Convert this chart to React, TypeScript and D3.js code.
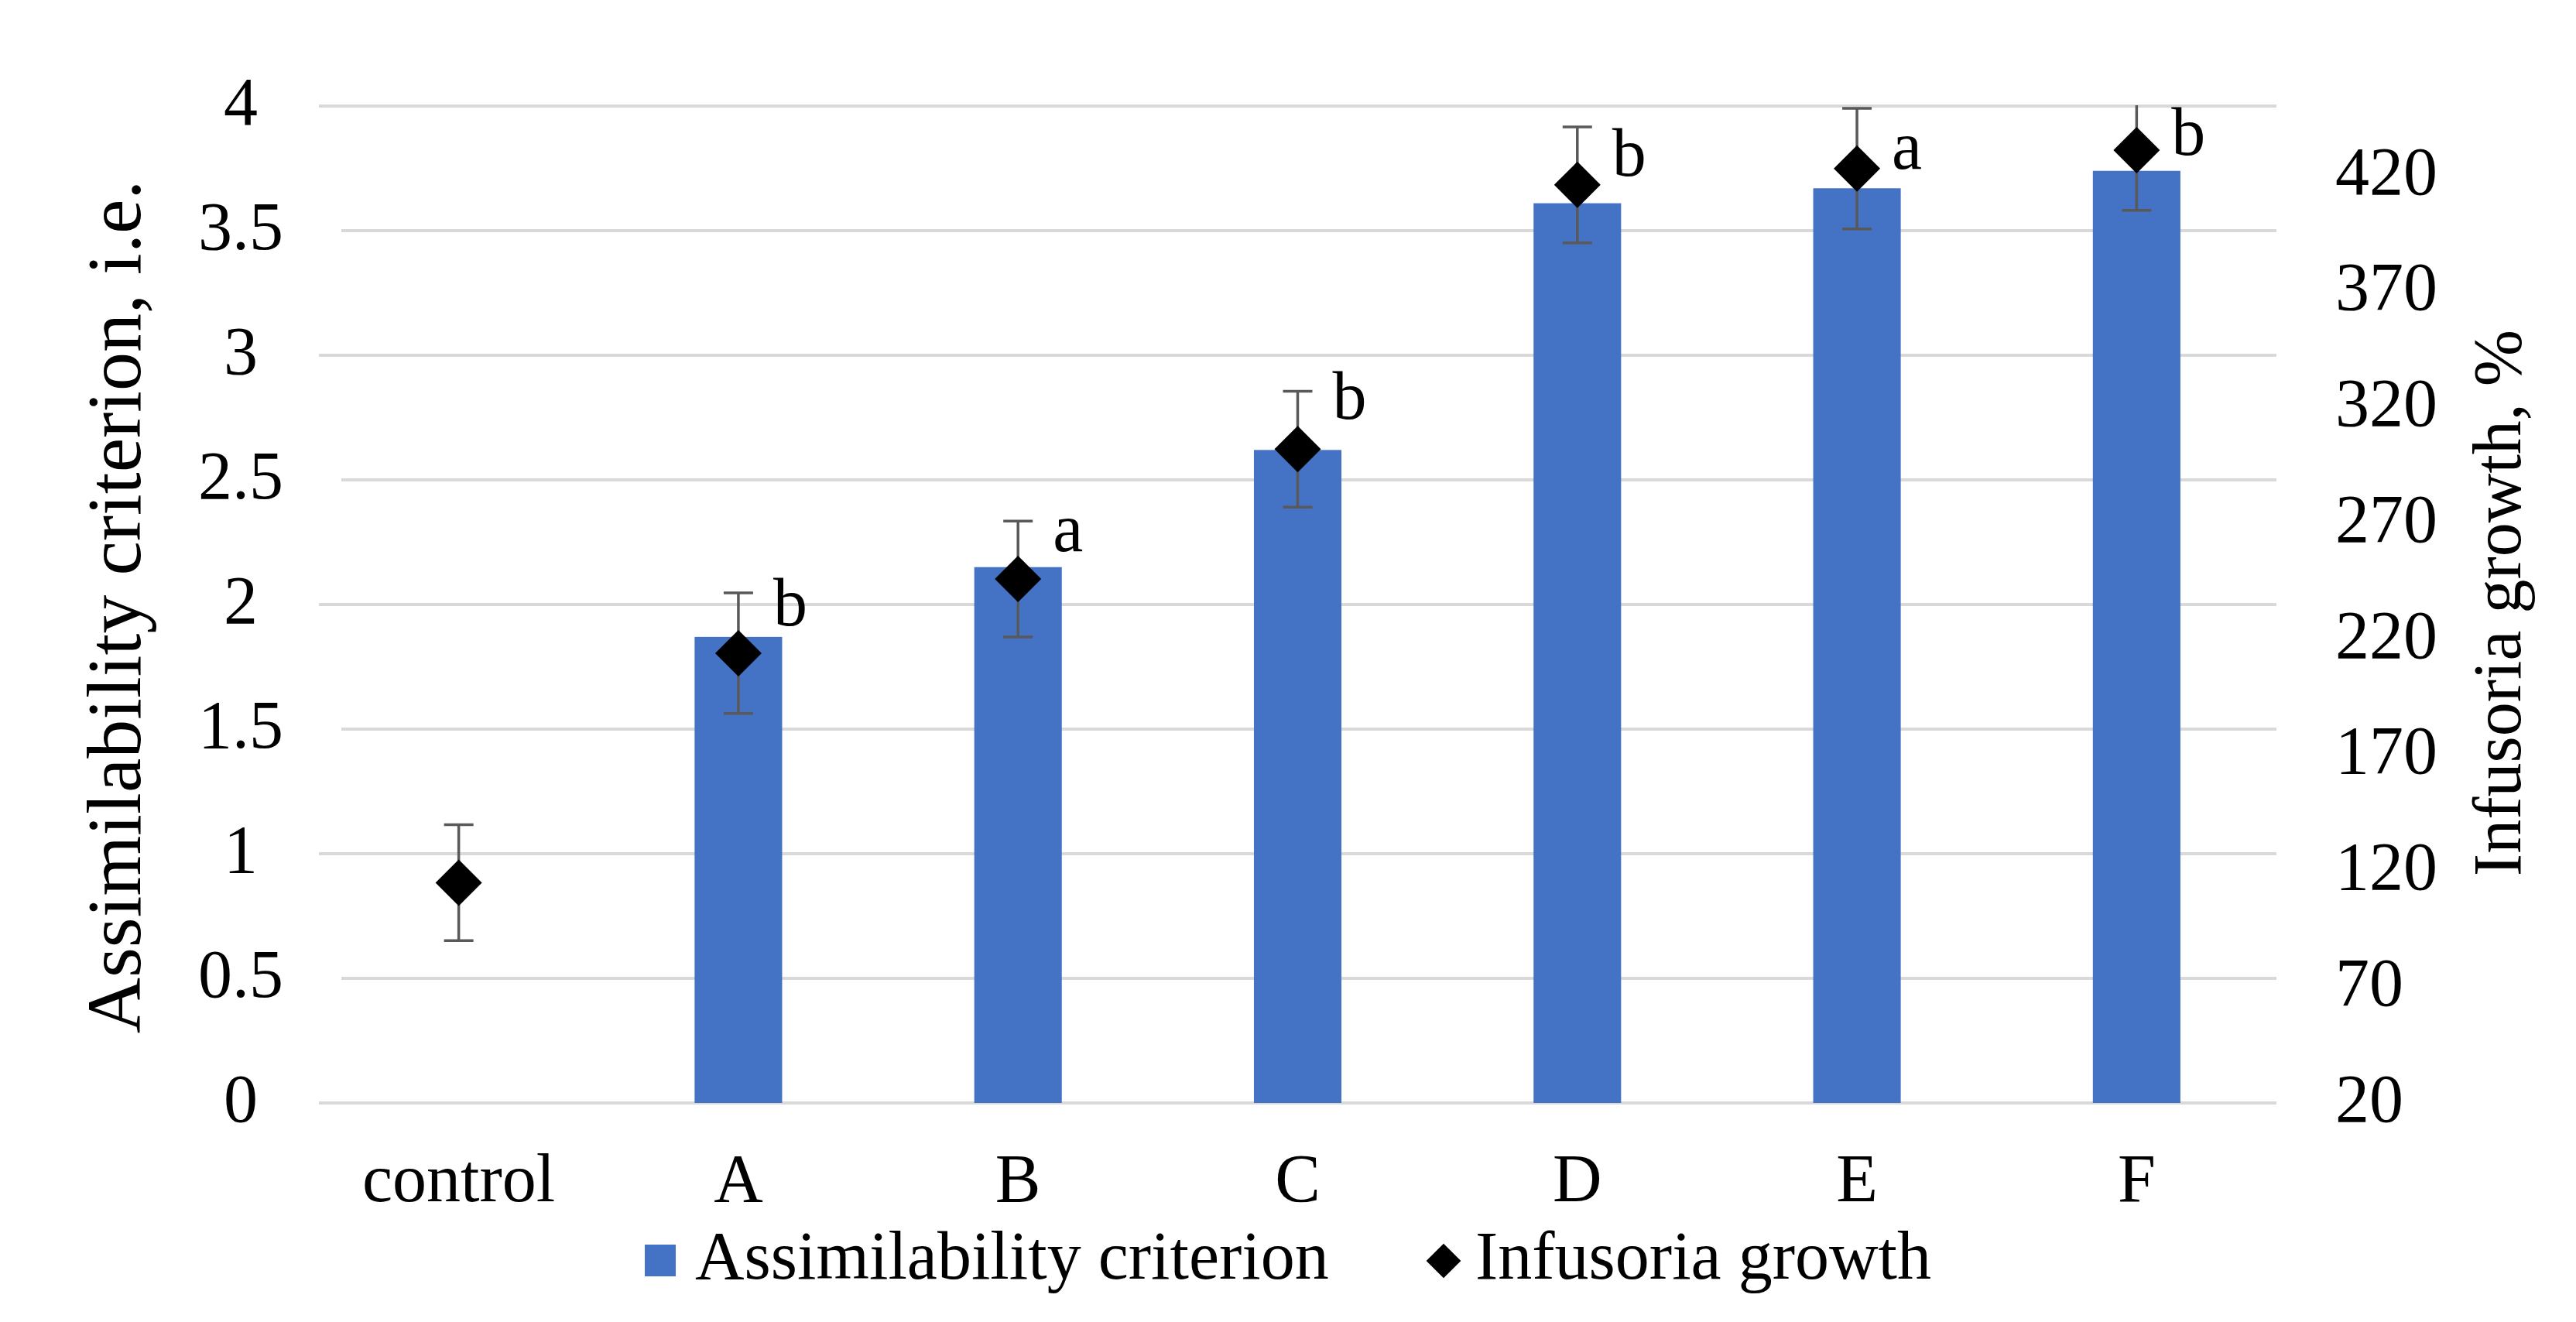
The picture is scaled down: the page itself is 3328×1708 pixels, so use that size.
import { useEffect, useRef } from 'react';
import * as d3 from 'd3';

const categories = ['control', 'A', 'B', 'C', 'D', 'E', 'F'];
const criterion = [0, 1.87, 2.15, 2.62, 3.61, 3.67, 3.74];
const growth = [115, 214, 246, 302, 416, 423, 431];
const growthErr = [25, 26, 25, 25, 25, 26, 26];
const letters = ['', 'b', 'a', 'b', 'b', 'a', 'b'];
// letter baseline, in growth % units
const letterAt = [0, 226, 258, 315, 420, 423, 429];
const leftTicks = [0, 0.5, 1, 1.5, 2, 2.5, 3, 3.5, 4];
const rightTicks = [20, 70, 120, 170, 220, 270, 320, 370, 420];

const W = 3328;
const H = 1708;
const FONT = '"Liberation Serif", "Times New Roman", serif';

export default function App() {
  const ref = useRef<SVGSVGElement>(null);

  useEffect(() => {
    if (!ref.current) return;
    const svg = d3.select(ref.current);
    svg.selectAll('*').remove();

    const left = 412, right = 2941, top = 137, bottom = 1425;

    const x = d3.scaleBand<string>()
      .domain(categories)
      .range([left, right])
      .paddingInner(0.687)
      .paddingOuter(0.3435);
    const yL = d3.scaleLinear().domain([0, 4]).range([bottom, top]);
    const yR = d3.scaleLinear().domain([20, 450]).range([bottom, top]);
    const cx = (c: string) => (x(c) as number) + x.bandwidth() / 2;

    svg.append('rect').attr('width', W).attr('height', H).attr('fill', '#ffffff');

    svg.append('defs').append('clipPath').attr('id', 'plot')
      .append('rect').attr('x', left).attr('y', top - 1)
      .attr('width', right - left).attr('height', bottom - top + 2);

    // left tick labels first, so gridlines can leave room for them
    const lbl = svg.append('g').attr('font-family', FONT).attr('font-size', 88).attr('fill', '#000');
    const grid = svg.insert('g', 'g');
    leftTicks.forEach(t => {
      const tx = lbl.append('text')
        .attr('x', 311).attr('y', yL(t)).attr('dy', '0.27em')
        .attr('text-anchor', 'middle')
        .text(String(t));
      const bb = (tx.node() as SVGTextElement).getBBox();
      const x0 = Math.max(left, bb.x + bb.width + 75);
      grid.append('line')
        .attr('x1', x0).attr('x2', right)
        .attr('y1', yL(t)).attr('y2', yL(t))
        .attr('stroke', '#d9d9d9').attr('stroke-width', 4);
    });

    rightTicks.forEach(t => {
      lbl.append('text')
        .attr('x', 3017).attr('y', yR(t)).attr('dy', '0.27em')
        .attr('text-anchor', 'start')
        .text(String(t));
    });

    // bars
    svg.append('g').selectAll('rect')
      .data(categories.map((c, i) => ({ c, v: criterion[i] })).filter(d => d.v > 0))
      .enter().append('rect')
      .attr('x', d => x(d.c) as number)
      .attr('width', x.bandwidth())
      .attr('y', d => yL(d.v))
      .attr('height', d => yL(0) - yL(d.v))
      .attr('fill', '#4472c4');

    // error bars + diamonds
    const eb = svg.append('g').attr('clip-path', 'url(#plot)')
      .attr('stroke', '#595959').attr('stroke-width', 3.5);
    categories.forEach((c, i) => {
      const hi = yR(growth[i] + growthErr[i]);
      const lo = yR(growth[i] - growthErr[i]);
      eb.append('line').attr('x1', cx(c)).attr('x2', cx(c)).attr('y1', hi).attr('y2', lo);
      eb.append('line').attr('x1', cx(c) - 19).attr('x2', cx(c) + 19).attr('y1', hi).attr('y2', hi);
      eb.append('line').attr('x1', cx(c) - 19).attr('x2', cx(c) + 19).attr('y1', lo).attr('y2', lo);
    });

    const diamond = d3.symbol().type(d3.symbolSquare).size(1800);
    svg.append('g').selectAll('path')
      .data(categories.map((c, i) => ({ c, v: growth[i] })))
      .enter().append('path')
      .attr('d', diamond() as string)
      .attr('transform', d => `translate(${cx(d.c)},${yR(d.v)}) rotate(45)`)
      .attr('fill', '#000');

    // significance letters
    categories.forEach((c, i) => {
      if (!letters[i]) return;
      lbl.append('text')
        .attr('x', cx(c) + 45).attr('y', yR(letterAt[i]))
        .text(letters[i]);
    });

    // category labels
    categories.forEach(c => {
      lbl.append('text')
        .attr('x', cx(c)).attr('y', 1552)
        .attr('text-anchor', 'middle')
        .text(c);
    });

    // axis titles
    svg.append('text')
      .attr('transform', `translate(181, ${(top + bottom) / 2 + 3}) rotate(-90)`)
      .attr('text-anchor', 'middle')
      .attr('font-family', FONT).attr('font-size', 100)
      .text('Assimilability criterion, i.e.');
    svg.append('text')
      .attr('transform', `translate(3256, ${(top + bottom) / 2 - 2}) rotate(-90)`)
      .attr('text-anchor', 'middle')
      .attr('font-family', FONT).attr('font-size', 88)
      .text('Infusoria growth, %');

    // legend
    const lg = svg.append('g').attr('font-family', FONT).attr('font-size', 88);
    lg.append('rect').attr('x', 833).attr('y', 1608).attr('width', 40).attr('height', 41).attr('fill', '#4472c4');
    lg.append('text').attr('x', 898).attr('y', 1652).text('Assimilability criterion');
    lg.append('path')
      .attr('d', d3.symbol().type(d3.symbolSquare).size(1000)() as string)
      .attr('transform', 'translate(1865,1629) rotate(45)')
      .attr('fill', '#000');
    lg.append('text').attr('x', 1906).attr('y', 1652).text('Infusoria growth');
  }, []);

  return (
    <div style={{ position: 'absolute', left: 0, top: 0 }}>
      <svg ref={ref} width={W} height={H} style={{ display: 'block' }} />
    </div>
  );
}
